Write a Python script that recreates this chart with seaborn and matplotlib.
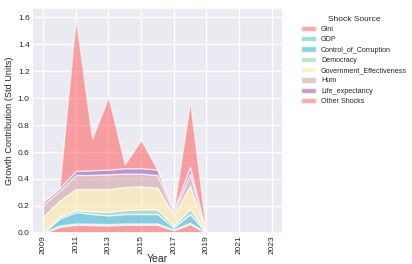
import matplotlib
matplotlib.use("Agg")
import matplotlib.pyplot as plt
import seaborn as sns
import numpy as np

years = list(range(2009, 2024))
gini = [0.0, 0.045, 0.06, 0.058, 0.055, 0.06, 0.06, 0.06, 0.02, 0.065, 0, 0, 0, 0, 0]
gdp = [0.0, 0.01, 0.01, 0.01, 0.01, 0.01, 0.01, 0.01, 0.005, 0.01, 0, 0, 0, 0, 0]
control = [0.0, 0.05, 0.085, 0.072, 0.065, 0.07, 0.07, 0.07, 0.015, 0.065, 0, 0, 0, 0, 0]
democracy = [0.0, 0.015, 0.015, 0.02, 0.025, 0.03, 0.035, 0.035, 0.015, 0.04, 0, 0, 0, 0, 0]
gov_eff = [0.12, 0.12, 0.155, 0.165, 0.17, 0.17, 0.17, 0.16, 0.075, 0.17, 0, 0, 0, 0, 0]
hum = [0.09, 0.07, 0.105, 0.105, 0.11, 0.10, 0.095, 0.095, 0.02, 0.09, 0, 0, 0, 0, 0]
life = [0.02, 0.02, 0.03, 0.035, 0.035, 0.04, 0.04, 0.04, 0.02, 0.05, 0, 0, 0, 0, 0]
other = [0.0, 0.005, 1.13, 0.235, 0.54, 0.03, 0.21, 0.0, 0.0, 0.485, 0, 0, 0, 0, 0]

labels = ["Gini", "GDP", "Control_of_Corruption", "Democracy",
          "Government_Effectiveness", "Hum", "Life_expectancy", "Other Shocks"]
colors = ["#FF6B6B", "#4ECDC4", "#45B7D1", "#96CEB4", "#FFEAA7", "#D4A5A5", "#9B59B6", "#FF6B6B"]

sns.set_theme(style="darkgrid")
plt.rcParams["font.family"] = ["Liberation Sans", "DejaVu Sans"]
fig, ax = plt.subplots(figsize=(4.12, 2.64), dpi=100)
fig.subplots_adjust(left=0.077, right=0.687, top=0.97, bottom=0.118)

ax.stackplot(years, gini, gdp, control, democracy, gov_eff, hum, life, other,
             labels=labels, colors=colors, alpha=0.6)
ax.axhline(0, color="black", linestyle=":", linewidth=0.8, alpha=0.6)

ax.set_xticks(years[::2])
ax.set_xticklabels([str(y) for y in years[::2]], rotation=90, fontsize=6)
ax.set_yticks(np.arange(0, 1.7, 0.2))
ax.set_yticklabels([f"{v:.1f}" for v in np.arange(0, 1.7, 0.2)], fontsize=6)
ax.tick_params(axis="both", pad=1.5, length=0)
ax.set_xlabel("Year", fontsize=7.5, labelpad=0)
ax.set_ylabel("Growth Contribution (Std Units)", fontsize=6.6, labelpad=3)
ax.set_ylim(0, 1.67)

leg = ax.legend(title="Shock Source", bbox_to_anchor=(1.055, 0.985), loc="upper left",
                frameon=False, fontsize=5.1, title_fontsize=6,
                handlelength=2.1, handleheight=0.75, labelspacing=0.46,
                borderaxespad=0.2, handletextpad=0.7)

fig.savefig("out.png", dpi=100)
